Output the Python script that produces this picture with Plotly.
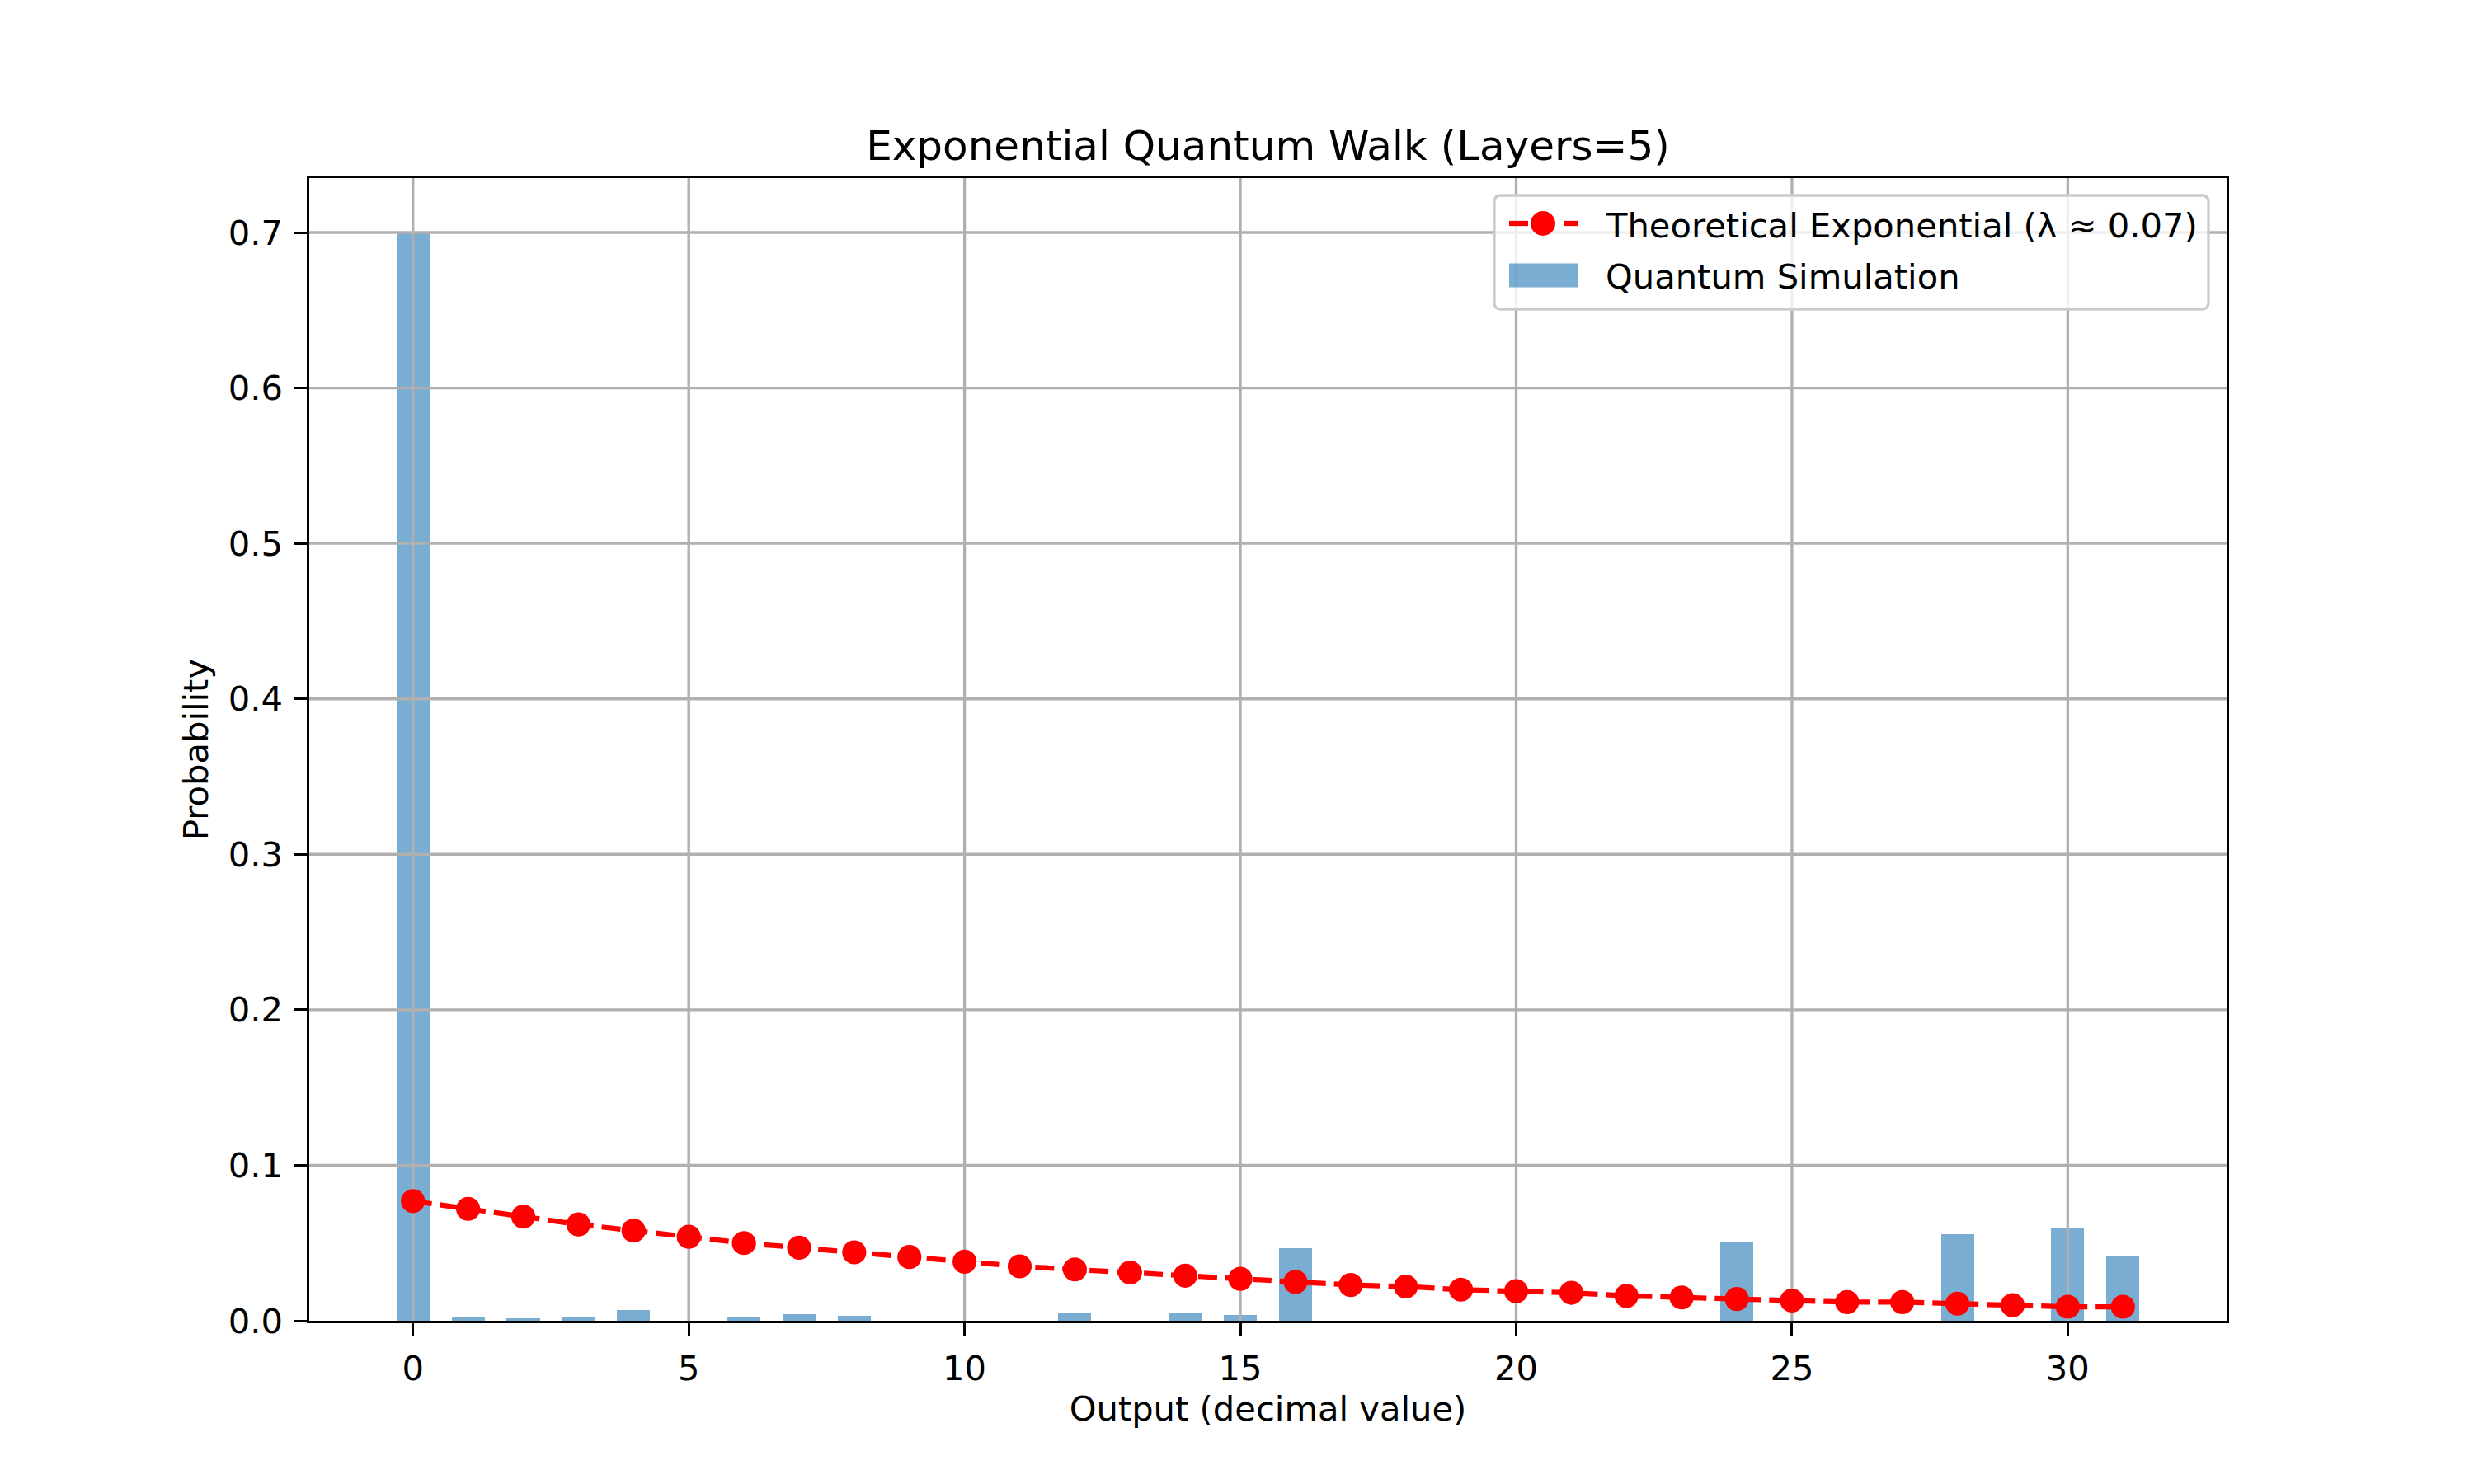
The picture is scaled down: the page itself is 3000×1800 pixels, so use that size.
import plotly.graph_objects as go

# data
outputs = list(range(32))
sim_probs = [0.700, 0.0025, 0.0014, 0.0025, 0.0068, 0.0, 0.0025, 0.0041,
             0.0030, 0.0, 0.0, 0.0, 0.0046, 0.0, 0.0046, 0.0036,
             0.0468, 0.0, 0.0, 0.0, 0.0, 0.0, 0.0, 0.0,
             0.0511, 0.0, 0.0, 0.0, 0.0559, 0.0, 0.0596, 0.0420]
theory_probs = [0.077, 0.072, 0.067, 0.062, 0.058, 0.054, 0.050, 0.047,
                0.044, 0.041, 0.038, 0.035, 0.033, 0.031, 0.029, 0.027,
                0.025, 0.023, 0.022, 0.020, 0.019, 0.018, 0.016, 0.015,
                0.014, 0.013, 0.012, 0.012, 0.011, 0.010, 0.009, 0.009]
x_ticks = [0, 5, 10, 15, 20, 25, 30]
y_ticks = [0.0, 0.1, 0.2, 0.3, 0.4, 0.5, 0.6, 0.7]
line_label = "Theoretical Exponential (λ ≈ 0.07)"
bar_label = "Quantum Simulation"

x_range = [-1.88, 32.88]
y_range = [0, 0.735]

PX = 300 / 72  # matplotlib points -> pixels at 300 dpi
FONT = "DejaVu Sans"
OFF = 8  # the page body margin shifts everything by this much
BAR_COLOR = "rgba(31,119,180,0.6)"

# plot area in figure pixels (matplotlib default subplot box)
L, R, T, B = 375, 2700, 216, 1602


def px(xp):
    return (xp - L) / (R - L)


def py(yp):
    return (B - yp) / (B - T)


fig = go.Figure()

fig.add_trace(go.Bar(x=outputs, y=sim_probs, width=0.6, name=bar_label,
                     marker=dict(color="#1f77b4", opacity=0.6, line=dict(width=0))))

# grid drawn above bars but below the line, as matplotlib does
gx, gy = [], []
for t in x_ticks:
    gx += [t, t, None]
    gy += [y_range[0], y_range[1], None]
for t in y_ticks[1:]:
    gx += [x_range[0], x_range[1], None]
    gy += [t, t, None]
fig.add_trace(go.Scatter(x=gx, y=gy, mode="lines", hoverinfo="skip",
                         line=dict(color="#b0b0b0", width=0.8 * PX)))

fig.add_trace(go.Scatter(x=outputs, y=theory_probs, mode="lines+markers", name=line_label,
                         line=dict(color="red", width=1.5 * PX, dash="23px,10px"),
                         marker=dict(color="red", size=7 * PX)))

# hand-built legend, matplotlib style
fl, fr, ft, fb, rad = 1812, 2678, 237, 375, 8
frame = (f"M {px(fl + rad)},{py(ft)} L {px(fr - rad)},{py(ft)} "
         f"Q {px(fr)},{py(ft)} {px(fr)},{py(ft + rad)} L {px(fr)},{py(fb - rad)} "
         f"Q {px(fr)},{py(fb)} {px(fr - rad)},{py(fb)} L {px(fl + rad)},{py(fb)} "
         f"Q {px(fl)},{py(fb)} {px(fl)},{py(fb - rad)} L {px(fl)},{py(ft + rad)} "
         f"Q {px(fl)},{py(ft)} {px(fl + rad)},{py(ft)} Z")
row1, row2 = 271, 334
shapes = [
    dict(type="path", path=frame, xref="paper", yref="paper",
         fillcolor="rgba(255,255,255,0.8)", line=dict(color="#cccccc", width=0.8 * PX)),
    dict(type="line", xref="paper", yref="paper", x0=px(1830), x1=px(1853), y0=py(row1), y1=py(row1),
         line=dict(color="red", width=1.5 * PX)),
    dict(type="line", xref="paper", yref="paper", x0=px(1896), x1=px(1913), y0=py(row1), y1=py(row1),
         line=dict(color="red", width=1.5 * PX)),
    dict(type="circle", xref="paper", yref="paper", x0=px(1856), x1=px(1886),
         y0=py(row1 - 15), y1=py(row1 + 15), fillcolor="red", line=dict(width=0)),
    dict(type="rect", xref="paper", yref="paper", x0=px(1830), x1=px(1913),
         y0=py(row2 - 14.5), y1=py(row2 + 14.5), fillcolor=BAR_COLOR, line=dict(width=0)),
]
annotations = [
    dict(text=line_label, x=px(1945), y=py(row1 + 2), xref="paper", yref="paper",
         xanchor="left", yanchor="middle", showarrow=False,
         font=dict(family=FONT, size=10 * PX, color="black")),
    dict(text=bar_label, x=px(1945), y=py(row2 + 2), xref="paper", yref="paper",
         xanchor="left", yanchor="middle", showarrow=False,
         font=dict(family=FONT, size=10 * PX, color="black")),
]

axis_common = dict(showgrid=False, zeroline=False, showline=True, mirror=True,
                   linecolor="black", linewidth=0.8 * PX, ticks="outside",
                   ticklen=3.5 * PX, tickwidth=0.8 * PX, tickcolor="black",
                   tickfont=dict(family=FONT, size=10 * PX, color="black"))

fig.update_xaxes(range=x_range, tickvals=x_ticks, ticklabelstandoff=4,
                 title=dict(text="Output (decimal value)", standoff=12,
                            font=dict(family=FONT, size=10 * PX, color="black")),
                 **axis_common)
fig.update_yaxes(range=y_range, tickvals=y_ticks, tickformat=".1f", ticklabelstandoff=6,
                 title=dict(text="Probability", standoff=12,
                            font=dict(family=FONT, size=10 * PX, color="black")),
                 **axis_common)

fig.update_layout(
    width=3000, height=1800, autosize=False,
    margin=dict(l=L - OFF, r=3000 - R + OFF, t=T - OFF, b=1800 - B + OFF),
    paper_bgcolor="white", plot_bgcolor="white",
    font=dict(family=FONT, color="black"),
    title=dict(text="Exponential Quantum Walk (Layers=5)", x=0.5, xanchor="center",
               xref="paper", y=1 - 168 / 1800, yanchor="middle",
               font=dict(family=FONT, size=12 * PX, color="black")),
    shapes=shapes, annotations=annotations,
    bargap=0, showlegend=False,
)

fig.write_html("out.html")
